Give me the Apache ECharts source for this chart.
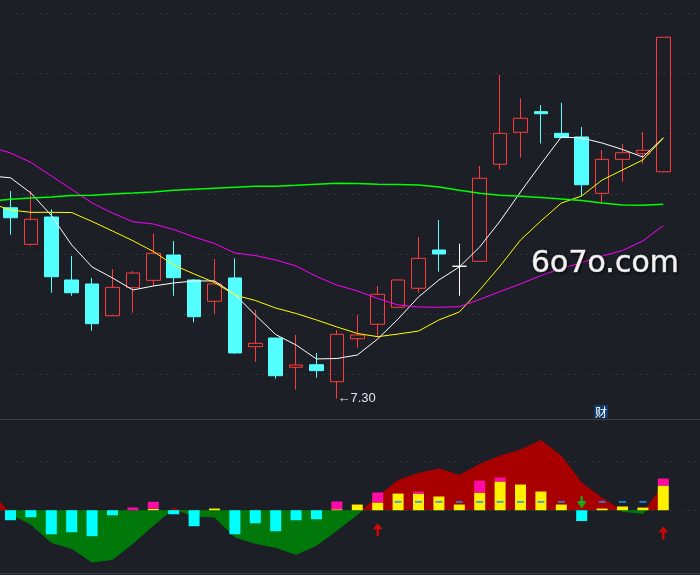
<!DOCTYPE html>
<html>
<head>
<meta charset="utf-8">
<script src="https://cdn.jsdelivr.net/npm/echarts@6/dist/echarts.min.js"></script>
<style>
html,body{margin:0;padding:0;background:#1c1f26;}
#c{width:700px;height:575px;}
</style>
</head>
<body>
<div id="c"></div>
<script>
// ---- categories (first one is the partly hidden bar left of view, last two are empty space) ----
const categories = ['k00','k01','k02','k03','k04','k05','k06','k07','k08','k09','k10','k11','k12','k13','k14','k15','k16','k17','k18','k19','k20','k21','k22','k23','k24','k25','k26','k27','k28','k29','k30','k31','k32','k33','k34','k35'];

// ---- price candles ----
const opens  = ['-', 8.885, 8.581, 8.808, 8.285, 8.252, 7.988, 8.221, 8.282, 8.492, 8.285, 8.108, 8.302, 7.731, 7.803, 7.560, 7.581, 7.440, 7.797, 7.917, 8.058, 8.216, 8.534, 8.399, 8.440, 9.246, 9.512, 9.683, 9.503, 9.473, 9.005, 9.287, 9.334, 9.184];
const closes = ['-', 8.802, 8.789, 8.312, 8.179, 7.922, 8.224, 8.343, 8.507, 8.304, 7.980, 8.252, 7.679, 7.759, 7.490, 7.579, 7.532, 7.834, 7.828, 8.166, 8.285, 8.465, 8.501, 8.399, 9.130, 9.503, 9.628, 9.666, 9.468, 9.076, 9.287, 9.342, 9.362, 10.301];
const lows   = ['-', 8.661, 8.570, 8.179, 8.154, 7.864, 7.988, 8.013, 8.235, 8.154, 7.934, 8.005, 7.673, 7.606, 7.465, 7.374, 7.473, 7.30, 7.723, 7.809, 8.058, 8.179, 8.354, 8.154, 8.440, 9.204, 9.301, 9.419, 9.468, 8.985, 8.922, 9.101, 9.251, 9.184];
const highs  = ['-', 9.024, 9.024, 8.872, 8.484, 8.302, 8.376, 8.360, 8.669, 8.609, 8.293, 8.459, 8.465, 8.036, 7.803, 7.828, 7.679, 7.870, 7.994, 8.235, 8.293, 8.642, 8.783, 8.586, 9.232, 9.988, 9.794, 9.738, 9.757, 9.556, 9.365, 9.414, 9.514, 10.301];

// ---- moving averages ----
const ma5  = [9.149, 9.134, 9.007, 8.821, 8.576, 8.393, 8.302, 8.202, 8.235, 8.260, 8.277, 8.277, 8.164, 7.994, 7.832, 7.745, 7.629, 7.633, 7.662, 7.795, 7.961, 8.144, 8.285, 8.393, 8.559, 8.775, 9.016, 9.248, 9.473, 9.464, 9.423, 9.369, 9.306, 9.467];
const ma10 = [8.924, 8.866, 8.847, 8.847, 8.845, 8.771, 8.692, 8.611, 8.522, 8.409, 8.335, 8.264, 8.160, 8.115, 8.052, 8.007, 7.953, 7.895, 7.841, 7.814, 7.836, 7.861, 7.953, 8.019, 8.202, 8.401, 8.617, 8.775, 8.924, 8.983, 9.115, 9.199, 9.282, 9.464];
const ma20 = [9.390, 9.340, 9.261, 9.149, 9.038, 8.924, 8.841, 8.769, 8.750, 8.704, 8.642, 8.588, 8.509, 8.488, 8.451, 8.401, 8.314, 8.243, 8.194, 8.131, 8.077, 8.061, 8.058, 8.063, 8.123, 8.189, 8.252, 8.322, 8.380, 8.429, 8.484, 8.530, 8.609, 8.736];
const ma60 = [8.941, 8.955, 8.966, 8.974, 8.987, 8.988, 8.999, 9.007, 9.016, 9.030, 9.038, 9.047, 9.055, 9.063, 9.063, 9.071, 9.080, 9.088, 9.086, 9.080, 9.078, 9.074, 9.057, 9.030, 9.005, 8.989, 8.980, 8.970, 8.958, 8.945, 8.924, 8.908, 8.905, 8.914];

// ---- lower indicator ----
const oscArea     = [18.4, -3.4, -14.3, -32.6, -38.8, -52.7, -50, -33.7, -15.3, 2, -6.1, -6.8, -27.2, -33.7, -37.7, -44.9, -35.7, -20.4, -4.4, 13.6, 30.3, 37.4, 42.1, 35.4, 46.6, 55.1, 61.2, 71.1, 55.1, 27.7, 12.2, -1, -3.1, 25.5];
const cyanBars    = ['-', -10.2, -7.1, -24.5, -22.4, -26.5, -5.1, '-', '-', -4.1, -16.3, '-', -24.5, -13.3, -21.4, -10.2, -9.2, '-', '-', '-', '-', '-', '-', '-', '-', '-', '-', '-', '-', -11, '-', '-', '-', '-'];
const yellowBars  = ['-', '-', '-', '-', '-', '-', '-', '-', 1.5, '-', '-', 1.7, '-', '-', '-', '-', '-', 1, 5.8, 7.9, 17, 17, 14, 5.8, 18, 29.3, 26.2, 19.1, 5.8, '-', 1.7, 3.8, 2.7, 25.2];
const magentaBars = ['-', '-', '-', '-', '-', '-', '-', 2.8, 7.1, '-', '-', '-', '-', '-', '-', '-', '-', 7.9, '-', 10.2, '-', 2, '-', '-', 12.2, 4.1, '-', '-', '-', '-', '-', '-', '-', 7.1];
const blueDash    = ['-', '-', '-', '-', '-', '-', '-', '-', '-', '-', '-', '-', '-', '-', '-', '-', '-', '-', '-', '-', 8.5, 8.5, 8.5, 8.5, 8.5, 8.5, 8.5, 8.5, 8.5, 8.5, 8.5, 8.5, 8.5, '-'];
const buyArrows   = ['-', '-', '-', '-', '-', '-', '-', '-', '-', '-', '-', '-', '-', '-', '-', '-', '-', '-', '-', -19.9, '-', '-', '-', '-', '-', '-', '-', '-', '-', '-', '-', '-', '-', -23.1];
const sellArrows  = ['-', '-', '-', '-', '-', '-', '-', '-', '-', '-', '-', '-', '-', '-', '-', '-', '-', '-', '-', '-', '-', '-', '-', '-', '-', '-', '-', '-', '-', 8.2, '-', '-', '-', '-'];

// ---- gridline levels / annotations ----
const priceGridLines = [7.5, 8.0, 8.5, 9.0, 9.5, 10.0, 10.5];
const subGridLines = [0, 50];
const lowMark = { index: 17, value: 7.30 };
const reportMark = { index: 30, text: '财' };
const watermark = '6o7o.com';

const UP = '#ff3b3b', DOWN = '#54ffff';
const AREA_POS = '#a80000', AREA_NEG = '#00780a';

const candleData = opens.map((o, i) => {
  const v = [o, closes[i], lows[i], highs[i]];
  if (o !== '-' && o === closes[i]) {
    return { value: v, itemStyle: { color: '#ffffff', color0: '#ffffff', borderColor: '#ffffff', borderColor0: '#ffffff' } };
  }
  return v;
});

const chart = echarts.init(document.getElementById('c'));

const maLine = (data, color, w) => ({
  type: 'line', xAxisIndex: 0, yAxisIndex: 0, data: data, showSymbol: false, symbol: 'none',
  lineStyle: { color: color, width: w }, itemStyle: { color: color }, z: 3, silent: true
});

const gridDash = { color: '#30343d', width: 1, type: [2, 4] };

const option = {
  backgroundColor: '#1c1f26',
  animation: false,
  grid: [
    { left: -20.1, top: 1.26, width: 734.4, height: 433.44, outerBoundsMode: 'none', containLabel: false },
    { left: -20.1, top: 420, width: 734.4, height: 153, outerBoundsMode: 'none', containLabel: false }
  ],
  xAxis: [
    { type: 'category', gridIndex: 0, data: categories, boundaryGap: true, show: false },
    { type: 'category', gridIndex: 1, data: categories, boundaryGap: true, show: false }
  ],
  yAxis: [
    { type: 'value', gridIndex: 0, min: 7.0, max: 10.6, show: false },
    { type: 'value', gridIndex: 1, min: -64, max: 92, show: false }
  ],
  series: [
    {
      type: 'candlestick', xAxisIndex: 0, yAxisIndex: 0, data: candleData, barWidth: 14, z: 2,
      itemStyle: { color: 'rgba(0,0,0,0)', color0: DOWN, borderColor: UP, borderColor0: DOWN, borderWidth: 1 },
      markPoint: {
        symbol: 'circle', symbolSize: 1, silent: true, itemStyle: { color: 'rgba(0,0,0,0)' },
        data: [{ coord: [categories[lowMark.index], lowMark.value], value: lowMark.value }],
        label: {
          show: true, position: 'right', distance: 0,
          formatter: p => '\u2190' + p.value.toFixed(2),
          color: '#dfe6ee', fontSize: 13, fontFamily: 'Liberation Sans'
        }
      }
    },
    maLine(ma5, '#ffffff', 1),
    maLine(ma10, '#ffff00', 1),
    maLine(ma20, '#ff00ff', 1),
    maLine(ma60, '#00ff00', 1.5),
    {
      type: 'line', xAxisIndex: 1, yAxisIndex: 1, data: oscArea, showSymbol: false, symbol: 'none',
      lineStyle: { width: 0.8, color: AREA_POS }, areaStyle: { opacity: 1, color: AREA_POS }, z: 2, silent: true
    },
    { type: 'bar', xAxisIndex: 1, yAxisIndex: 1, data: cyanBars, barWidth: 11, barGap: '-100%', itemStyle: { color: '#00ffff' }, z: 3, silent: true },
    { type: 'bar', xAxisIndex: 1, yAxisIndex: 1, data: yellowBars, stack: 'pos', barWidth: 11, barGap: '-100%', itemStyle: { color: '#fff000' }, z: 3, silent: true },
    { type: 'bar', xAxisIndex: 1, yAxisIndex: 1, data: magentaBars, stack: 'pos', barWidth: 11, barGap: '-100%', itemStyle: { color: '#ff0aa8' }, z: 3, silent: true },
    { type: 'scatter', xAxisIndex: 1, yAxisIndex: 1, data: blueDash, symbol: 'rect', symbolSize: [7, 2], itemStyle: { color: '#1e90ff' }, z: 4, silent: true },
    {
      type: 'scatter', xAxisIndex: 1, yAxisIndex: 1, data: buyArrows,
      symbol: 'path://M5 0 L10 6 L6.2 6 L6.2 13 L3.8 13 L3.8 6 L0 6 Z', symbolSize: [10, 13],
      itemStyle: { color: '#ff0000' }, z: 5, silent: true
    },
    {
      type: 'scatter', xAxisIndex: 1, yAxisIndex: 1, data: sellArrows,
      symbol: 'path://M3.8 0 L6.2 0 L6.2 6 L10 6 L5 13 L0 6 L3.8 6 Z', symbolSize: [9.5, 12.5],
      itemStyle: { color: '#00cc00' }, z: 5, silent: true
    },
    {
      type: 'line', xAxisIndex: 0, yAxisIndex: 0, data: [], z: 0, silent: true,
      markLine: { silent: true, z: 0, symbol: 'none', label: { show: false }, lineStyle: gridDash, data: priceGridLines.map(v => ({ yAxis: v })) }
    },
    {
      type: 'line', xAxisIndex: 1, yAxisIndex: 1, data: [], z: 0, silent: true,
      markLine: { silent: true, z: 0, symbol: 'none', label: { show: false }, lineStyle: gridDash, data: subGridLines.map(v => ({ yAxis: v })) }
    }
  ]
};

chart.setOption(option);

// colour the indicator area red above zero, green below zero (split at the axis' own zero pixel)
const zeroY = chart.convertToPixel({ yAxisIndex: 1 }, 0);
const topY = chart.convertToPixel({ yAxisIndex: 1 }, 92);
const botY = chart.convertToPixel({ yAxisIndex: 1 }, -64);
const split = (zeroY - topY) / (botY - topY);
const areaGrad = () => new echarts.graphic.LinearGradient(0, topY, 0, botY, [
  { offset: 0, color: AREA_POS }, { offset: split, color: AREA_POS },
  { offset: split, color: AREA_NEG }, { offset: 1, color: AREA_NEG }
], true);

const reportX = chart.convertToPixel({ xAxisIndex: 0 }, categories[reportMark.index]);
chart.setOption({
  series: [{}, {}, {}, {}, {}, { lineStyle: { color: areaGrad() }, areaStyle: { color: areaGrad() } }],
  graphic: [
    { type: 'line', silent: true, z: 50, shape: { x1: 0, y1: 419.5, x2: 700, y2: 419.5 }, style: { stroke: '#393d46', lineWidth: 1 } },
    { type: 'line', silent: true, z: 50, shape: { x1: 0, y1: 573.5, x2: 700, y2: 573.5 }, style: { stroke: '#393d46', lineWidth: 1 } },
    {
      type: 'text', silent: true, z: 60, x: reportX - 1, y: 405,
      style: { text: reportMark.text, fill: '#ffffff', font: '12px "Noto Sans CJK SC"', align: 'center', verticalAlign: 'top', backgroundColor: '#0f3a6c', padding: [1, 1, 0, 1] }
    },
    {
      type: 'text', silent: true, z: 100, x: 531, y: 264.5,
      style: {
        text: watermark, fill: '#f2f2f2', font: '30px "DejaVu Sans"', align: 'left', verticalAlign: 'middle',
        stroke: '#f2f2f2', lineWidth: 0.7,
        textShadowColor: 'rgba(0,0,0,0.85)', textShadowBlur: 3, textShadowOffsetX: 1, textShadowOffsetY: 1
      }
    }
  ]
});
</script>
</body>
</html>
